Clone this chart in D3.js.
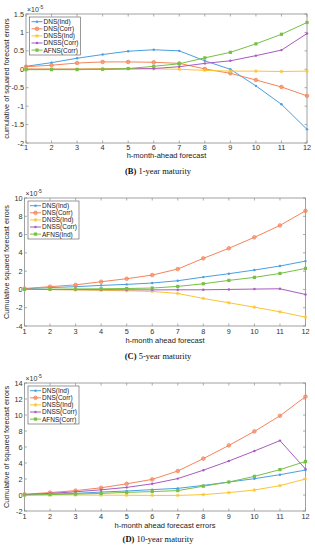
<!DOCTYPE html>
<html><head><meta charset="utf-8">
<script src="https://cdn.jsdelivr.net/npm/d3@7"></script>
<style>body{margin:0;background:#fff}svg{display:block}</style>
</head><body>
<svg id="c" width="315" height="550"></svg>
<script>
const horizons = [1,2,3,4,5,6,7,8,9,10,11,12];
// Panel B: 1-year maturity (x1e-5)
const b_dnsInd   = [0.08,0.18,0.30,0.40,0.49,0.53,0.50,0.23,0.00,-0.45,-0.95,-1.63];
const b_dnsCorr  = [0.07,0.11,0.17,0.20,0.20,0.19,0.16,0.01,-0.11,-0.29,-0.48,-0.72];
const b_dnssInd  = [0.01,0.01,0.01,0.02,0.02,0.01,0.00,-0.03,-0.05,-0.05,-0.06,-0.05];
const b_dnssCorr = [0.00,0.00,0.00,0.00,0.01,0.02,0.07,0.16,0.23,0.37,0.52,0.97];
const b_afnsCorr = [-0.01,-0.01,-0.01,0.00,0.02,0.08,0.15,0.31,0.46,0.69,0.95,1.27];
// Panel C: 5-year maturity
const c_dnsInd   = [0.07,0.20,0.30,0.44,0.55,0.70,0.95,1.35,1.72,2.12,2.56,3.10];
const c_dnsCorr  = [0.10,0.30,0.50,0.84,1.17,1.57,2.23,3.40,4.50,5.70,7.00,8.60];
const c_dnssInd  = [0.00,-0.02,-0.05,-0.10,-0.15,-0.22,-0.44,-0.99,-1.46,-1.94,-2.45,-3.03];
const c_dnssCorr = [0.00,-0.01,-0.02,-0.03,-0.04,-0.05,-0.04,-0.04,0.00,0.04,0.07,-0.55];
const c_afnsInd  = [0.00,0.03,0.05,0.07,0.10,0.15,0.33,0.62,0.99,1.32,1.75,2.30];
// Panel D: 10-year maturity
const d_dnsInd   = [0.05,0.10,0.20,0.37,0.50,0.67,0.83,1.20,1.62,2.04,2.54,3.12];
const d_dnsCorr  = [0.10,0.30,0.55,0.90,1.40,1.95,3.00,4.55,6.20,7.95,9.90,12.30];
const d_dnssInd  = [0.00,0.00,0.00,-0.02,-0.03,-0.05,-0.05,0.05,0.30,0.62,1.17,2.00];
const d_dnssCorr = [0.05,0.20,0.40,0.65,0.95,1.40,2.05,3.10,4.25,5.50,6.80,3.25];
const d_afnsCorr = [0.00,0.05,0.12,0.20,0.33,0.42,0.55,1.10,1.62,2.33,3.17,4.20];

const colors = ["#4a9fe0","#f5845a","#fbc531","#a85bc0","#77c043"];
const markers = ["dot","circle","star","dot","square"];

const panels = [
  {top:14,bottom:143,left:26,right:307,domain:[-2,1.5],ticks:[-2,-1.5,-1,-0.5,0,0.5,1,1.5],
   names:["DNS(Ind)","DNS(Corr)","DNSS(Ind)","DNSS(Corr)","AFNS(Corr)"],
   series:[b_dnsInd,b_dnsCorr,b_dnssInd,b_dnssCorr,b_afnsCorr],
   ylabel:"cumulative of squared forecast errors", xlabel:"h-month-ahead forecast",
   tickY:149.5, xlabY:158, capY:174, capB:"(B)", cap:" 1-year maturity"},
  {top:198,bottom:326,left:24.5,right:305.5,domain:[-4,10],ticks:[-4,-2,0,2,4,6,8,10],
   names:["DNS(Ind)","DNS(Corr)","DNSS(Ind)","DNSS(Corr)","AFNS(Ind)"],
   series:[c_dnsInd,c_dnsCorr,c_dnssInd,c_dnssCorr,c_afnsInd],
   ylabel:"Cumulative squared forecast errors", xlabel:"h-month ahead forecast",
   tickY:334, xlabY:343, capY:359, capB:"(C)", cap:" 5-year maturity"},
  {top:383,bottom:511,left:24.5,right:305.5,domain:[-2,14],ticks:[-2,0,2,4,6,8,10,12,14],
   names:["DNS(Ind)","DNS(Corr)","DNSS(Ind)","DNSS(Corr)","AFNS(Corr)"],
   series:[d_dnsInd,d_dnsCorr,d_dnssInd,d_dnssCorr,d_afnsCorr],
   ylabel:"Cumulative of squared forecast errors", xlabel:"h-month ahead forecast errors",
   tickY:519, xlabY:528, capY:542, capB:"(D)", cap:" 10-year maturity"}
];

const svg = d3.select("#c");
const sans = "'Liberation Sans', Arial, sans-serif";
const serif = "'Liberation Serif', 'DejaVu Serif', serif";
const axisCol = "#8a8a8a";

function drawMarker(g, type, x, y, col){
  if(type==="circle") g.append("circle").attr("cx",x).attr("cy",y).attr("r",1.8).attr("fill",col).attr("fill-opacity",0.6).attr("stroke",col).attr("stroke-width",0.8);
  else if(type==="square") g.append("rect").attr("x",x-1.6).attr("y",y-1.6).attr("width",3.2).attr("height",3.2).attr("fill",col);
  else if(type==="star") g.append("path").attr("d",`M${x-1.8},${y}H${x+1.8}M${x},${y-1.8}V${y+1.8}M${x-1.3},${y-1.3}L${x+1.3},${y+1.3}M${x-1.3},${y+1.3}L${x+1.3},${y-1.3}`).attr("stroke",col).attr("stroke-width",0.8);
  else g.append("circle").attr("cx",x).attr("cy",y).attr("r",1.2).attr("fill",col);
}

panels.forEach(p=>{
  const x = d3.scaleLinear().domain([1,12]).range([p.left,p.right]);
  const y = d3.scaleLinear().domain(p.domain).range([p.bottom,p.top]);
  const g = svg.append("g");
  g.append("rect").attr("x",p.left).attr("y",p.top).attr("width",p.right-p.left).attr("height",p.bottom-p.top)
   .attr("fill","none").attr("stroke",axisCol).attr("stroke-width",0.8);
  horizons.forEach(h=>{
    g.append("line").attr("x1",x(h)).attr("x2",x(h)).attr("y1",p.bottom).attr("y2",p.bottom-2.5).attr("stroke",axisCol).attr("stroke-width",0.7);
    g.append("line").attr("x1",x(h)).attr("x2",x(h)).attr("y1",p.top).attr("y2",p.top+2.5).attr("stroke",axisCol).attr("stroke-width",0.7);
    g.append("text").attr("x",x(h)).attr("y",p.tickY).attr("text-anchor","middle").attr("font-family",sans).attr("font-size",7.3).attr("fill","#333").text(h);
  });
  p.ticks.forEach(t=>{
    g.append("line").attr("x1",p.left).attr("x2",p.left+2.5).attr("y1",y(t)).attr("y2",y(t)).attr("stroke",axisCol).attr("stroke-width",0.7);
    g.append("line").attr("x1",p.right).attr("x2",p.right-2.5).attr("y1",y(t)).attr("y2",y(t)).attr("stroke",axisCol).attr("stroke-width",0.7);
    g.append("text").attr("x",p.left-2).attr("y",y(t)+2.6).attr("text-anchor","end").attr("font-family",sans).attr("font-size",7.3).attr("fill","#333").text(t);
  });
  const ex = g.append("text").attr("x",p.left+1).attr("y",p.top-2.5).attr("font-family",sans).attr("font-size",7).attr("fill","#333");
  ex.append("tspan").text("×10");
  ex.append("tspan").attr("dy",-3).attr("font-size",5).text("-5");
  const line = d3.line().x((d,i)=>x(horizons[i])).y(d=>y(d));
  p.series.forEach((s,k)=>{
    g.append("path").attr("d",line(s)).attr("fill","none").attr("stroke",colors[k]).attr("stroke-width",1);
    s.forEach((v,i)=>drawMarker(g,markers[k],x(horizons[i]),y(v),colors[k]));
  });
  const lx = p.left+3.5, ly = p.top+3;
  g.append("rect").attr("x",lx).attr("y",ly).attr("width",51).attr("height",38).attr("fill","#fff").attr("stroke","#555").attr("stroke-width",0.6);
  p.names.forEach((n,k)=>{
    const yy = ly+4.7+k*7.1;
    g.append("line").attr("x1",lx+2).attr("x2",lx+13).attr("y1",yy).attr("y2",yy).attr("stroke",colors[k]).attr("stroke-width",1);
    drawMarker(g,markers[k],lx+7.5,yy,colors[k]);
    g.append("text").attr("x",lx+14).attr("y",yy+2.4).attr("font-family",sans).attr("font-size",6.5).attr("fill","#222").text(n);
  });
  g.append("text").attr("x",(p.left+p.right)/2).attr("y",p.xlabY).attr("text-anchor","middle").attr("font-family",sans).attr("font-size",7.5).attr("fill","#222").text(p.xlabel);
  g.append("text").attr("transform",`translate(9,${(p.top+p.bottom)/2}) rotate(-90)`).attr("text-anchor","middle").attr("font-family",sans).attr("font-size",7.3).attr("fill","#222").text(p.ylabel);
  const cap = g.append("text").attr("x",158).attr("y",p.capY).attr("text-anchor","middle").attr("font-family",serif).attr("font-size",8.5).attr("fill","#111");
  cap.append("tspan").attr("font-weight","bold").text(p.capB);
  cap.append("tspan").text(p.cap);
});
</script>
</body></html>
